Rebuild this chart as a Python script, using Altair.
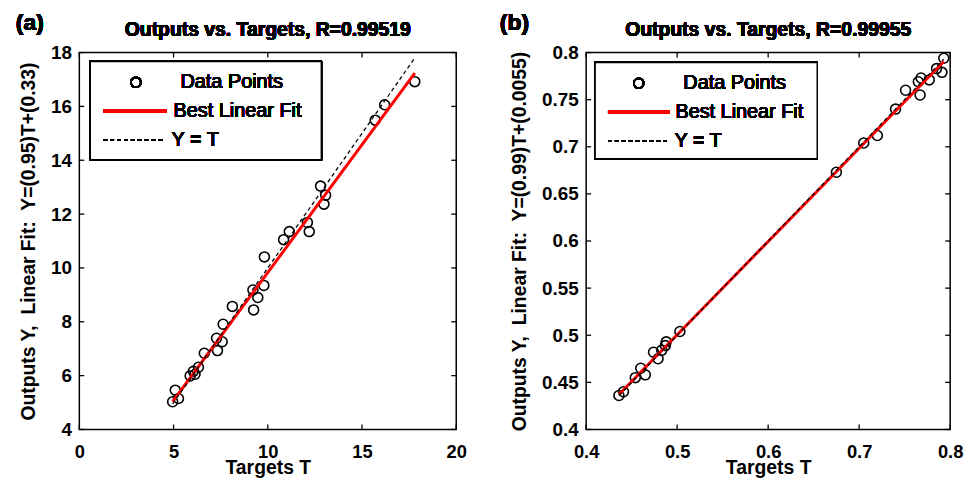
import altair as alt
import pandas as pd

FONT = "Liberation Sans"
NBSP = "\u00a0"

# ---- panel (a) ----
a_targets = [4.95, 5.09, 5.26, 5.88, 6.05, 6.14, 6.32, 6.63, 7.28, 7.33, 7.58, 7.63, 8.12, 9.21,
             9.25, 9.47, 9.79, 9.82, 10.84, 11.14, 12.10, 12.20, 12.80, 12.98, 13.07, 15.70, 16.20, 17.80]
a_outputs = [5.03, 5.46, 5.15, 5.99, 6.16, 6.05, 6.31, 6.83, 7.39, 6.93, 7.26, 7.91, 8.57, 9.18,
             8.44, 8.90, 9.35, 10.41, 11.05, 11.35, 11.69, 11.35, 13.04, 12.37, 12.70, 15.49, 16.06, 16.92]
a_slope, a_intercept, a_r = 0.95, 0.33, "0.99519"
a_xticks = [0, 5, 10, 15, 20]
a_yticks = [4, 6, 8, 10, 12, 14, 16, 18]

# ---- panel (b) ----
b_targets = [0.436, 0.441, 0.454, 0.460, 0.465, 0.474, 0.479, 0.483, 0.487, 0.488, 0.503, 0.675,
             0.705, 0.720, 0.740, 0.751, 0.765, 0.767, 0.768, 0.777, 0.785, 0.791, 0.793]
b_outputs = [0.436, 0.440, 0.455, 0.465, 0.458, 0.482, 0.475, 0.484, 0.489, 0.493, 0.504, 0.673,
             0.704, 0.712, 0.740, 0.760, 0.769, 0.755, 0.773, 0.771, 0.783, 0.779, 0.794]
b_slope, b_intercept, b_r = 0.99, 0.0055, "0.99955"
b_xticks = [0.4, 0.5, 0.6, 0.7, 0.8]
b_yticks = [0.4, 0.45, 0.5, 0.55, 0.6, 0.65, 0.7, 0.75, 0.8]

legend_labels = ["Data Points", "Best Linear Fit", "Y = T"]


def y_title(slope, intercept):
    return f"Outputs Y,{NBSP} Linear Fit:{NBSP} Y=({slope})T+({intercept})"


def panel(tag, targets, outputs, slope, intercept, r_text, xticks, yticks,
          width, height, leg, tag_dx):
    xdom = [xticks[0], xticks[-1]]
    ydom = [yticks[0], yticks[-1]]
    ytitle = y_title(slope, intercept)

    def X(field):
        return alt.X(f"{field}:Q", scale=alt.Scale(domain=xdom, nice=False, zero=False),
                     axis=alt.Axis(values=xticks, format="~g"), title="Targets T")

    def Y(field):
        return alt.Y(f"{field}:Q", scale=alt.Scale(domain=ydom, nice=False, zero=False),
                     axis=alt.Axis(values=yticks, format="~g"), title=ytitle)

    pts = pd.DataFrame({"T": targets, "Y": outputs})
    lo, hi = min(targets), max(targets)
    fit = pd.DataFrame({"T": [lo, hi], "Y": [slope * lo + intercept, slope * hi + intercept]})
    ident = pd.DataFrame({"T": [lo, hi], "Y": [lo, hi]})
    xt = pd.DataFrame({"xt": xticks})
    yt = pd.DataFrame({"yt": yticks})

    points = alt.Chart(pts).mark_point(shape="circle", filled=False, stroke="black",
                                       strokeWidth=1.6, size=100, opacity=1).encode(x=X("T"), y=Y("Y"))
    fit_line = alt.Chart(fit).mark_line(color="#ff0000", strokeWidth=3).encode(x=X("T"), y=Y("Y"))
    id_line = alt.Chart(ident).mark_line(color="black", strokeWidth=1.3,
                                         strokeDash=[4, 3]).encode(x=X("T"), y=Y("Y"))

    # inward ticks on all four sides of the box
    tl = 5
    tick_style = dict(color="black", strokeWidth=1.3)
    xt_bot = alt.Chart(xt).mark_rule(**tick_style).encode(
        x=X("xt"), y=alt.value(height - tl), y2=alt.value(height))
    xt_top = alt.Chart(xt).mark_rule(**tick_style).encode(
        x=X("xt"), y=alt.value(0), y2=alt.value(tl))
    yt_left = alt.Chart(yt).mark_rule(**tick_style).encode(
        y=Y("yt"), x=alt.value(0), x2=alt.value(tl))
    yt_right = alt.Chart(yt).mark_rule(**tick_style).encode(
        y=Y("yt"), x=alt.value(width - tl), x2=alt.value(width))

    # legend box in the upper-left corner of the axes
    bx0, bx1, by0, by1, cx, lx0, lx1, dx1, tx = leg
    rows = [by0 + 21, by0 + 50, by0 + 79]
    box = alt.Chart(pts).mark_rect(fill="white", stroke="black", strokeWidth=1.5).encode(
        x=alt.value(bx0), x2=alt.value(bx1), y=alt.value(by0), y2=alt.value(by1))
    leg_pt = alt.Chart(pts).mark_point(shape="circle", filled=False, stroke="black",
                                       strokeWidth=1.6, size=100, opacity=1).encode(
        x=alt.value(cx), y=alt.value(rows[0]))
    leg_fit = alt.Chart(pts).mark_rule(color="#ff0000", strokeWidth=3).encode(
        x=alt.value(lx0), x2=alt.value(lx1), y=alt.value(rows[1]))
    leg_id = alt.Chart(pts).mark_rule(color="black", strokeWidth=1.3, strokeDash=[4, 3]).encode(
        x=alt.value(lx0), x2=alt.value(dx1), y=alt.value(rows[2]))
    leg_txt = []
    for i, (lab, x0) in enumerate(zip(legend_labels, tx)):
        leg_txt.append(alt.Chart(pts).mark_text(text=lab, align="left", baseline="middle",
                                                font=FONT, fontSize=20, fontWeight="normal",
                                                color="black").encode(
            x=alt.value(x0), y=alt.value(rows[i])))

    title_mark = alt.Chart(pts).mark_text(
        text=f"Outputs vs. Targets, R={r_text}", align="center", baseline="alphabetic",
        font=FONT, fontSize=19.5, fontWeight="bold", color="black").encode(
        x=alt.value(width / 2), y=alt.value(-17))

    tag_mark = alt.Chart(pts).mark_text(text=tag, align="left", baseline="alphabetic",
                                        font=FONT, fontSize=23, fontWeight="bold",
                                        color="black").encode(x=alt.value(tag_dx), y=alt.value(-23))

    return alt.layer(points, fit_line, id_line, xt_bot, xt_top, yt_left, yt_right,
                     box, leg_pt, leg_fit, leg_id, *leg_txt, title_mark, tag_mark).properties(
        width=width, height=height)


pa = panel("(a)", a_targets, a_outputs, a_slope, a_intercept, a_r, a_xticks, a_yticks,
           380, 380, (11, 244, 9, 108, 57, 24, 88, 85, (102, 95, 93)), -64)
pb = panel("(b)", b_targets, b_outputs, b_slope, b_intercept, b_r, b_xticks, b_yticks,
           367, 380, (9, 233, 10, 107, 53, 22, 84, 81, (98, 90, 89)), -87)

chart = alt.hconcat(pa, pb, spacing=31).properties(
    padding={"left": 15, "top": 9, "right": 5, "bottom": 5},
    background="white",
).configure_view(stroke="black", strokeWidth=1.5).configure_axis(
    domain=False, ticks=False, tickSize=0, grid=False, labelFlush=False, labelOverlap=False,
    labelFont=FONT, labelFontSize=19, labelFontWeight="bold", labelColor="black",
    labelPadding=8, titleFont=FONT, titleFontSize=19.5, titleFontWeight="bold",
    titleColor="black",
).configure_axisX(titlePadding=-2, labelPadding=13, labelFontSize=18.5).configure_axisY(titlePadding=12)

chart.save("out.html", embed_options={"renderer": "svg", "actions": False})
